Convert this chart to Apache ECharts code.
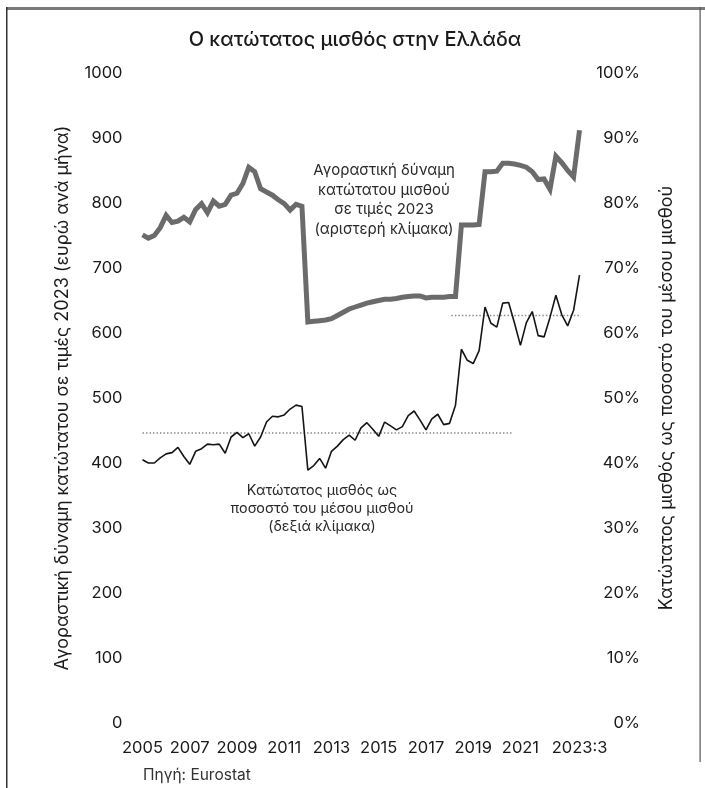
<!DOCTYPE html>
<html><head><meta charset="utf-8">
<script src="https://cdn.jsdelivr.net/npm/echarts@6/dist/echarts.min.js"></script>
<style>html,body{margin:0;padding:0;background:#fff}#c{width:705px;height:788px}</style>
</head><body><div id="c"></div>
<script>
// Quarterly categories 2005:1 .. 2023:3
const quarters = [];
for (let y = 2005; y <= 2023; y++) {
  for (let q = 1; q <= 4; q++) {
    if (y === 2023 && q > 3) break;
    quarters.push(y + ':' + q);
  }
}

// Purchasing power of minimum wage, 2023 prices (left scale, euro/month)
const purchasingPower = [
  751, 746, 750, 762, 781, 770, 772, 778, 771, 790,
  799, 785, 803, 795, 798, 812, 815, 830, 855, 848,
  822, 817, 812, 805, 799, 789, 798, 795, 617, 618,
  619, 620, 622, 627, 632, 637, 640, 643, 646, 648,
  650, 652, 652, 653, 655, 656, 657, 657, 654, 655,
  655, 655, 656, 656, 766, 766, 766, 767, 848, 848,
  849, 861, 861, 860, 858, 855, 848, 836, 837, 821,
  872, 862, 850, 840, 912
];

// Minimum wage as % of average wage (right scale)
const minWageRatio = [
  40.5, 40.0, 40.0, 40.8, 41.4, 41.6, 42.4, 41.0, 39.8, 41.8,
  42.2, 42.9, 42.8, 42.9, 41.5, 44.0, 44.7, 43.9, 44.5, 42.6,
  44.0, 46.3, 47.2, 47.1, 47.4, 48.3, 48.9, 48.7, 38.9, 39.6,
  40.7, 39.2, 41.8, 42.6, 43.6, 44.3, 43.5, 45.4, 46.2, 45.2,
  44.1, 46.3, 45.7, 45.1, 45.6, 47.3, 48.0, 46.6, 45.1, 46.8,
  47.5, 45.9, 46.1, 48.9, 57.5, 55.8, 55.3, 57.3, 64.0, 61.5,
  60.9, 64.6, 64.7, 61.5, 58.1, 61.6, 63.3, 59.6, 59.4, 62.4,
  65.8, 62.8, 61.1, 63.5, 68.9
];

// Dotted reference levels (x in quarter index, y in %)
const refLineEarly = [[0, 44.6], [62.6, 44.6]];
const refLineLate = [[52.3, 62.7], [75.6, 62.7]];

// X tick labels
const xTickIndex = [0, 8, 16, 24, 32, 40, 48, 56, 64, 74];
const xTickLabels = ['2005', '2007', '2009', '2011', '2013', '2015', '2017', '2019', '2021', '2023:3'];

const FONT = 'Inter';
const chart = echarts.init(document.getElementById('c'));
chart.setOption({
  animation: false,
  backgroundColor: '#fff',
  textStyle: { fontFamily: FONT },
  grid: { left: 142.5, right: 125.5, top: 73, bottom: 65, containLabel: false },
  xAxis: [{
    type: 'category',
    data: quarters,
    boundaryGap: false,
    axisLine: { show: false },
    axisTick: { show: false },
    splitLine: { show: false },
    axisLabel: {
      interval: (i) => xTickIndex.indexOf(i) >= 0,
      formatter: (v, i) => { const k = xTickIndex.indexOf(i); return k >= 0 ? xTickLabels[k] : ''; },
      color: '#1a1a1a', fontSize: 16.5, fontFamily: FONT, margin: 17, hideOverlap: false
    }
  }, {
    type: 'value', min: 0, max: 74, show: false
  }],
  yAxis: [{
    type: 'value', min: 0, max: 1000, interval: 100, position: 'left',
    axisLine: { show: false }, axisTick: { show: false }, splitLine: { show: false },
    axisLabel: { color: '#1a1a1a', fontSize: 16.5, fontFamily: FONT, margin: 20, formatter: (v) => String(v) },
    name: 'Αγοραστική δύναμη κατώτατου σε τιμές 2023 (ευρώ ανά μήνα)',
    nameLocation: 'middle', nameGap: 71,
    nameTextStyle: { color: '#1a1a1a', fontSize: 18, fontFamily: FONT }
  }, {
    type: 'value', min: 0, max: 100, interval: 10, position: 'right',
    axisLine: { show: false }, axisTick: { show: false }, splitLine: { show: false },
    axisLabel: { color: '#1a1a1a', fontSize: 16.5, fontFamily: FONT, margin: 60.5, align: 'right', formatter: (v) => v + '%' },
    name: 'Κατώτατος μισθός ως ποσοστό του μέσου μισθού',
    nameLocation: 'middle', nameGap: 78,
    nameTextStyle: { color: '#1a1a1a', fontSize: 18, fontFamily: FONT }
  }],
  series: [{
    type: 'line', name: 'ref1', xAxisIndex: 1, yAxisIndex: 1, data: refLineEarly,
    symbol: 'none', clip: false, silent: true,
    lineStyle: { color: '#8c8c8c', width: 1.5, type: [1.5, 2] }, z: 1
  }, {
    type: 'line', name: 'ref2', xAxisIndex: 1, yAxisIndex: 1, data: refLineLate,
    symbol: 'none', clip: false, silent: true,
    lineStyle: { color: '#8c8c8c', width: 1.5, type: [1.5, 2] }, z: 1
  }, {
    type: 'line', name: 'Αγοραστική δύναμη', xAxisIndex: 0, yAxisIndex: 0, data: purchasingPower,
    symbol: 'none', lineStyle: { color: '#6b6b6b', width: 5, join: 'miter' }, z: 3
  }, {
    type: 'line', name: 'Κατώτατος μισθός %', xAxisIndex: 0, yAxisIndex: 1, data: minWageRatio,
    symbol: 'none', lineStyle: { color: '#151515', width: 1.6 }, z: 4
  }],
  graphic: [
    { type: 'rect', left: 6, top: 7, shape: { width: 699, height: 3 }, style: { fill: '#7a7a7a' }, silent: true },
    { type: 'rect', left: 6, top: 7, shape: { width: 1.5, height: 781 }, style: { fill: '#333' }, silent: true },
    { type: 'rect', left: 699.5, top: 7, shape: { width: 1.2, height: 755 }, style: { fill: '#555' }, silent: true },
    { type: 'text', x: 355, y: 40, style: { text: 'Ο κατώτατος μισθός στην Ελλάδα', fontSize: 20, fontWeight: 500, fontFamily: FONT, fill: '#1a1a1a', align: 'center', verticalAlign: 'middle' } },
    { type: 'text', x: 384, y: 200, style: { text: 'Αγοραστική δύναμη\nκατώτατου μισθού\nσε τιμές 2023\n(αριστερή κλίμακα)', fontSize: 15, lineHeight: 19.5, fontFamily: FONT, fill: '#2a2a2a', align: 'center', verticalAlign: 'middle' } },
    { type: 'text', x: 322, y: 509, style: { text: 'Κατώτατος μισθός ως\nποσοστό του μέσου μισθού\n(δεξιά κλίμακα)', fontSize: 14.3, lineHeight: 18, fontFamily: FONT, fill: '#2a2a2a', align: 'center', verticalAlign: 'middle' } },
    { type: 'text', x: 143, y: 775, style: { text: 'Πηγή: Eurostat', fontSize: 15.5, fontFamily: FONT, fill: '#333', align: 'left', verticalAlign: 'middle' } }
  ]
});
</script>
</body></html>
